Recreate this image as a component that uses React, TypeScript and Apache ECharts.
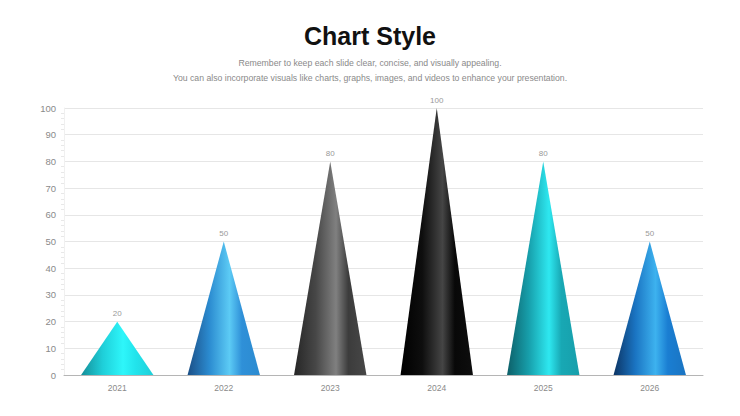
import React, { useEffect, useRef } from "react";
import * as echarts from "echarts";

const years = ["2021", "2022", "2023", "2024", "2025", "2026"];
const values = [20, 50, 80, 100, 80, 50];
const yTicks = [0, 100, 10]; // min, max, interval
const subtitleLines = [
  "Remember to keep each slide clear, concise, and visually appealing.",
  "You can also incorporate visuals like charts, graphs, images, and videos to enhance your presentation.",
];

// left shade, body, highlight, right side
const coneColors = [
  ["#148e98", "#1fcfd9", "#2ef6fa", "#22e4ec"],
  ["#1b4f86", "#2b8bd0", "#5ccbf5", "#2f90d8"],
  ["#262626", "#474747", "#808080", "#3c3c3c"],
  ["#000000", "#0e0e0e", "#454545", "#080808"],
  ["#0d5f68", "#179fab", "#2ee8f0", "#18a8b4"],
  ["#0c3464", "#1a74c2", "#3db2ef", "#1a7ed2"],
];

const coneGradient = (c: string[]) =>
  new echarts.graphic.LinearGradient(0, 0, 1, 0, [
    { offset: 0, color: c[0] },
    { offset: 0.3, color: c[1] },
    { offset: 0.58, color: c[2] },
    { offset: 0.75, color: c[3] },
    { offset: 1, color: c[1] },
  ]);

const App = () => {
  const chartRef = useRef<HTMLDivElement>(null);

  useEffect(() => {
    if (!chartRef.current) return;
    const chart = echarts.init(chartRef.current, null, { renderer: "svg" });

    chart.setOption({
      animation: false,
      textStyle: { fontFamily: "Liberation Sans" },
      title: [
        {
          text: "Chart Style",
          left: "center",
          top: 18,
          textStyle: { fontSize: 25, fontWeight: "bold", color: "#111" },
        },
        ...subtitleLines.map((line, i) => ({
          text: line,
          left: "center",
          top: 58 + i * 15,
          padding: 0,
          textStyle: { fontSize: 8.7, fontWeight: "normal", color: "#8a8a8a" },
        })),
      ],
      grid: { left: 64, right: 37, top: 108, bottom: 41 },
      xAxis: {
        type: "category",
        data: years,
        axisLine: { lineStyle: { color: "#b5b5b5" } },
        axisTick: { inside: true, length: 4, lineStyle: { color: "#ccc" } },
        axisLabel: { color: "#8a8a8a", fontSize: 8.5, margin: 8 },
      },
      yAxis: {
        type: "value",
        min: yTicks[0],
        max: yTicks[1],
        interval: yTicks[2],
        axisLine: { show: true, lineStyle: { color: "#f0f0f0" } },
        axisTick: { show: false },
        minorTick: { show: true, splitNumber: 5, length: 3, lineStyle: { color: "#e8e8e8" } },
        axisLabel: { color: "#8a8a8a", fontSize: 9.5, margin: 8 },
        splitLine: { lineStyle: { color: "#e6e6e6" } },
      },
      series: [
        {
          type: "pictorialBar",
          symbol: "triangle",
          symbolSize: ["68%", "100%"],
          barCategoryGap: "0%",
          label: { show: true, position: "top", distance: 4, color: "#999", fontSize: 8 },
          data: values.map((v, i) => ({
            value: v,
            itemStyle: { color: coneGradient(coneColors[i]) },
          })),
        },
      ],
    });

    return () => chart.dispose();
  }, []);

  return (
    <div
      ref={chartRef}
      style={{ position: "fixed", left: 0, top: 0, width: "740px", height: "416px", background: "#fff" }}
    />
  );
};

export default App;
